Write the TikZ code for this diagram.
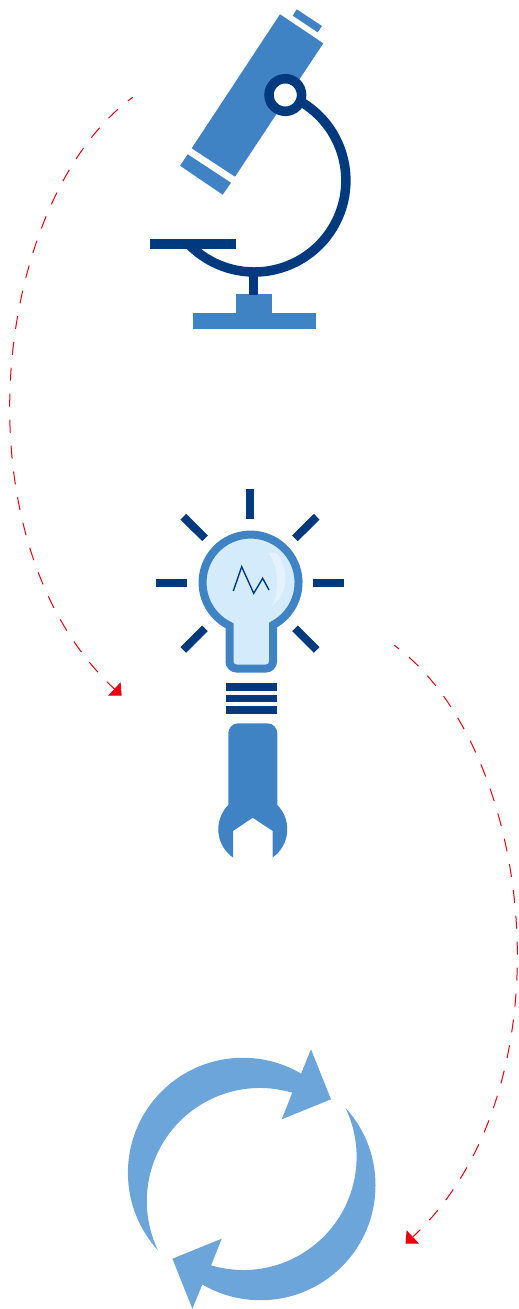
\documentclass[tikz,border=0pt]{standalone}
\usetikzlibrary{arrows.meta}
\definecolor{midblue}{HTML}{4083C4}
\definecolor{darkblue}{HTML}{003A7E}
\definecolor{lightblue}{HTML}{D3EBFB}
\definecolor{paleblue}{HTML}{E3F2FC}
\definecolor{cycleblue}{HTML}{6CA5DA}
\definecolor{dashred}{HTML}{E60012}
\tikzset{
  midfill/.style={fill=midblue,draw=none},
  darkfill/.style={fill=darkblue,draw=none},
  darkline/.style={draw=darkblue,line width=8pt},
  cyclefill/.style={fill=cycleblue,draw=none},
  flow/.style={draw=dashred,line width=1pt,dash pattern=on 13pt off 13pt,dash phase=7pt,-{Triangle[length=10pt,width=18pt,fill=dashred]}}
}
\newcommand{\cyclearrow}{%
  \fill[cyclefill] (157.7,1250) arc[start angle=137.8,end angle=300.4,radius=115]
    -- (311,1049.3) -- (331,1099.3) -- (281.7,1119.3) -- (292.3,1092.7)
    arc[start angle=286.6,end angle=154.4,radius=113.2] -- cycle;%
}
\begin{document}
\begin{tikzpicture}[x=1pt,y=-1pt]
\useasboundingbox (0,0) rectangle (519,1309);
% microscope
\fill[midfill] (280,14.3) -- (323.3,43.3) -- (235,176.7) -- (191.7,148.3) -- cycle;
\fill[midfill] (296.7,9.3) -- (322,26) -- (317.7,32.3) -- (292.7,15.7) -- cycle;
\fill[midfill] (187.7,154.3) -- (231,182.7) -- (222.7,194.7) -- (180,165.7) -- cycle;
\fill[midfill] (236,294) rectangle (272,313.5);
\fill[midfill] (193,313) rectangle (316,329);
\fill[darkfill] (249.3,272) rectangle (258.3,295);
\draw[draw=darkblue,line width=9.5pt] (303,103) arc[start angle=-57.9,end angle=136.6,radius=91.5];
\fill[darkfill] (150,239.3) rectangle (236,249);
\draw[draw=darkblue,fill=white,line width=9.5pt] (285.3,95) circle[radius=16.3];
% bulb rays
\fill[darkfill] (246,489) rectangle (254,519.3);
\fill[darkfill] (156,579.3) rectangle (186.7,587.3);
\fill[darkfill] (313.3,579.3) rectangle (344,587.3);
\draw[darkline] (183.3,516.7) -- (205,538.3);
\draw[darkline] (316.7,516.7) -- (295,538.3);
\draw[darkline] (205,628.3) -- (183.3,650);
\draw[darkline] (295,628.3) -- (316.7,650);
% bulb
\draw[draw=midblue,fill=lightblue,line width=8pt]
  (229.5,625.7) arc[start angle=116,end angle=422,radius=48]
  -- (273,661.5) arc[start angle=0,end angle=90,radius=7]
  -- (236.5,668.5) arc[start angle=90,end angle=180,radius=7] -- cycle;
\fill[paleblue] (268.3,552.7) .. controls (276,552) and (278,553) .. (279,556)
  .. controls (289,572) and (288,595) .. (271.7,606)
  .. controls (278,594) and (281,570) .. (268.3,552.7) -- cycle;
\draw[draw=darkblue,line width=1.4pt] (233.3,591) -- (241.7,566.7) -- (253.7,593.3) -- (262.7,578.3) -- (269,590);
% coil
\fill[darkfill] (226,683) rectangle (277.3,690.7);
\fill[darkfill] (226,694.7) rectangle (277.3,702.3);
\fill[darkfill] (226,706) rectangle (277.3,714);
% wrench
\fill[midfill] (228.3,815) -- (228.3,733.3) arc[start angle=180,end angle=270,radius=10] -- (267.3,723.3)
  arc[start angle=270,end angle=360,radius=10] -- (277.3,815) -- cycle;
\fill[midfill] (233,857.5) arc[start angle=125,end angle=414.8,radius=34.5]
  -- (272.7,831) -- (252.7,817.7) -- (233,831) -- cycle;
% cycle
\cyclearrow
\begin{scope}[rotate around={180:(251.7,1179)}]
\cyclearrow
\end{scope}
% connectors
\coordinate (a1) at (132.7,97.3);
\coordinate (a2) at (121.7,695.7);
\coordinate (b1) at (394.3,645.3);
\coordinate (b2) at (405.5,1243.7);
\draw[flow] (a1) .. controls (-8,200) and (-46,540) .. (a2);
\draw[flow] (b1) .. controls (535,748) and (573,1088) .. (b2);
\end{tikzpicture}
\end{document}
